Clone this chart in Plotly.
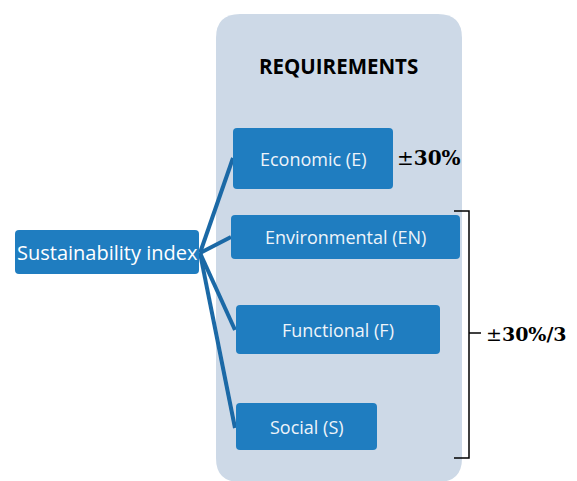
import plotly.graph_objects as go

# ---- data ----
root_label = "Sustainability index"
panel_title = "REQUIREMENTS"
req_labels = ["Economic (E)", "Environmental (EN)", "Functional (F)", "Social (S)"]
weight_single = "±<b>30%</b>"
weight_group = "±<b>30%/3</b>"

# ---- layout geometry (pixels, y downward) ----
W, H = 577, 481
OFF = 8  # page body margin
BOX = "#1f7dc0"
LINE = "#1b69a6"
PANEL = "#cdd9e7"

root_box = (15, 230, 199, 274)
req_boxes = [(233, 128, 393, 189), (231, 215, 460, 259), (236, 305, 440, 354), (236, 403, 377, 450)]
line_start = (200, 253)
line_ends = [(233, 158), (231, 237), (235, 330), (235, 428)]


def rrect(x0, y0, x1, y1, r):
    return (f"M {x0+r},{y0} L {x1-r},{y0} Q {x1},{y0} {x1},{y0+r} "
            f"L {x1},{y1-r} Q {x1},{y1} {x1-r},{y1} L {x0+r},{y1} "
            f"Q {x0},{y1} {x0},{y1-r} L {x0},{y0+r} Q {x0},{y0} {x0+r},{y0} Z")


shapes = []
shapes.append(dict(type="path", path=rrect(216, 14, 462, 482, 24),
                   fillcolor=PANEL, line=dict(width=0), layer="below"))
for (ex, ey) in line_ends:
    shapes.append(dict(type="line", x0=line_start[0], y0=line_start[1], x1=ex, y1=ey,
                       line=dict(color=LINE, width=4)))
for b in [root_box] + req_boxes:
    shapes.append(dict(type="path", path=rrect(*b, 4), fillcolor=BOX, line=dict(width=0)))
# bracket
shapes.append(dict(type="path", path="M 454,211 L 469,211 L 469,458 L 454,458",
                   line=dict(color="black", width=1.5)))
shapes.append(dict(type="line", x0=469, y0=333, x1=481, y1=333,
                   line=dict(color="black", width=1.5)))

annotations = []
sans = "Open Sans"
annotations.append(dict(x=(root_box[0] + root_box[2]) / 2, y=(root_box[1] + root_box[3]) / 2,
                        text=root_label, showarrow=False,
                        font=dict(family=sans, size=20, color="white")))
for lab, b in zip(req_labels, req_boxes):
    annotations.append(dict(x=(b[0] + b[2]) / 2, y=(b[1] + b[3]) / 2, text=lab, showarrow=False,
                            font=dict(family=sans, size=18, color="#eef4fa")))
annotations.append(dict(x=338, y=66, text=f"<b>{panel_title}</b>", showarrow=False,
                        font=dict(family=sans, size=20.5, color="black")))
annotations.append(dict(x=395, y=158, text=weight_single, showarrow=False, xanchor="left",
                        font=dict(family="DejaVu Serif", size=20, color="black")))
annotations.append(dict(x=484, y=334, text=weight_group, showarrow=False, xanchor="left",
                        font=dict(family="DejaVu Serif", size=19, color="black")))

fig = go.Figure()
fig.update_layout(
    width=W, height=H, margin=dict(l=0, r=0, t=0, b=0),
    paper_bgcolor="white", plot_bgcolor="white",
    xaxis=dict(range=[OFF, W + OFF], visible=False, fixedrange=True),
    yaxis=dict(range=[H + OFF, OFF], visible=False, fixedrange=True),
    shapes=shapes, annotations=annotations, showlegend=False,
)
fig.write_html("out.html")
